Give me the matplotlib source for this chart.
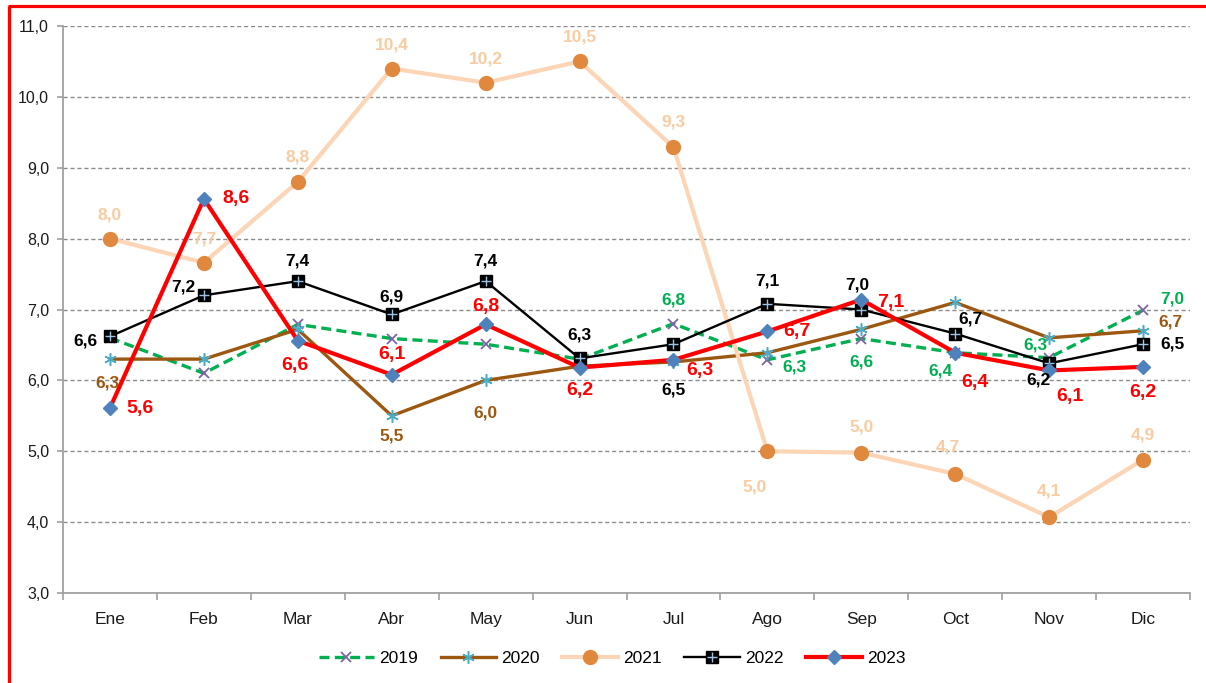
import matplotlib.pyplot as plt
from matplotlib.lines import Line2D
from matplotlib.legend_handler import HandlerTuple
import numpy as np

plt.rcParams['font.family'] = ['Liberation Sans', 'DejaVu Sans']

months = ['Ene', 'Feb', 'Mar', 'Abr', 'May', 'Jun', 'Jul', 'Ago', 'Sep', 'Oct', 'Nov', 'Dic']

v2019 = [6.6, 6.1, 6.79, 6.59, 6.51, 6.3, 6.8, 6.29, 6.59, 6.39, 6.32, 6.99]
v2020 = [6.3, 6.3, 6.72, 5.5, 6.0, 6.2, 6.26, 6.39, 6.72, 7.1, 6.6, 6.7]
v2021 = [8.0, 7.66, 8.8, 10.4, 10.2, 10.5, 9.29, 5.0, 4.98, 4.68, 4.07, 4.88]
v2022 = [6.62, 7.2, 7.4, 6.93, 7.4, 6.31, 6.51, 7.08, 7.0, 6.66, 6.24, 6.51]
v2023 = [5.61, 8.56, 6.56, 6.08, 6.79, 6.18, 6.29, 6.69, 7.14, 6.39, 6.14, 6.19]

# label offsets in pixels (dx, dy); None = no label
off2019 = [None, None, None, None, None, None,
           (0, 24), (27, -7), (0, -23), (-15, -18), (-14, 13), (29, 11)]
off2020 = [(-3, -24), None, None, (0, -20), (0, -33), None,
           None, None, None, None, None, (27, 9)]
off2021 = [(0, 24), (0, 24), (0, 25), (0, 24), (0, 24), (0, 24),
           (0, 25), (-13, -36), (0, 26), (-7, 27), (0, 26), (0, 25)]
off2022 = [(-25, -5), (-21, 8), (0, 20), (0, 17), (0, 20), (0, 23),
           (0, -46), (0, 23), (-4, 24), (15, 15), (-11, -17), (29, 0)]
off2023 = [(30, 0), (32, 0), (-3, -25), (0, 20), (0, 18), (0, -23),
           (26, -11), (29, 0), (29, -3), (20, -30), (21, -26), (0, -26)]

C_GREEN = '#00B050'
C_BROWN = '#9C5710'
C_PEACH = '#FBD5B5'
C_PEACH_LBL = '#F9CBA0'
C_RED = '#FF0000'

fig = plt.figure(figsize=(12.06, 6.83), dpi=100)
ax = fig.add_axes([63 / 1206, 1 - 593 / 683, (1190 - 63) / 1206, (593 - 26) / 683])

x = np.arange(len(months))

l19, = ax.plot(x, v2019, color=C_GREEN, lw=2.4, ls=(0, (3, 1.6)), marker='x',
               ms=7, mec='#7F63A8', mew=1.3, zorder=3)
l20, = ax.plot(x, v2020, color=C_BROWN, lw=2.4, marker=(6, 2, 0), ms=9,
               mec='#4BACC6', mew=1.1, zorder=3)
l21, = ax.plot(x, v2021, color=C_PEACH, lw=3.0, marker='o', ms=10,
               mfc='#E0893E', mec='#E0893E', zorder=3)
l22, = ax.plot(x, v2022, color='black', lw=1.7, marker='s', ms=8.5,
               mfc='black', mec='black', zorder=4)
l22p, = ax.plot(x, v2022, ls='none', marker='+', ms=7, mec='#9DC3E6', mew=1.0, zorder=4)
l23, = ax.plot(x, v2023, color=C_RED, lw=3.0, marker='D', ms=7,
               mfc='#4F81BD', mec='#4F81BD', zorder=5)


def add_labels(vals, offs, color, size):
    for i, (v, o) in enumerate(zip(vals, offs)):
        if o is None:
            continue
        txt = f'{v:.1f}'.replace('.', ',')
        ax.annotate(txt, (i, v), xytext=o, textcoords='offset pixels',
                    ha='center', va='center', color=color, fontsize=size,
                    fontweight='bold', zorder=6)


add_labels(v2019, off2019, C_GREEN, 12.5)
add_labels(v2020, off2020, C_BROWN, 12.5)
add_labels(v2021, off2021, C_PEACH_LBL, 12.5)
add_labels(v2022, off2022, 'black', 12.5)
add_labels(v2023, off2023, C_RED, 14)

ax.set_xlim(-0.5, 11.5)
ax.set_ylim(3, 11)
ax.set_yticks(np.arange(3, 11.01, 1))
ax.set_yticklabels([f'{t:.1f}'.replace('.', ',') for t in np.arange(3, 11.01, 1)])
ax.set_xticks(x)
ax.set_xticklabels(months)
ax.set_xticks(np.arange(-0.5, 12, 1), minor=True)
ax.tick_params(axis='x', which='major', length=0, pad=14, labelsize=12.5, colors='#1a1a1a')
ax.tick_params(axis='x', which='minor', length=5, width=1.2, color='#A0A0A0', direction='out')
ax.tick_params(axis='y', length=4, width=1.2, color='#A0A0A0', labelsize=11.5,
               labelcolor='#1a1a1a', pad=6)

ax.yaxis.grid(True, color='#8C8C8C', ls=(0, (3, 2)), lw=1.0)
ax.set_axisbelow(True)
for s in ['top', 'right']:
    ax.spines[s].set_visible(False)
for s in ['left', 'bottom']:
    ax.spines[s].set_color('#A0A0A0')
    ax.spines[s].set_linewidth(1.3)

handles = [l19, l20, l21, (l22, l22p), l23]
ax.legend(handles, ['2019', '2020', '2021', '2022', '2023'],
          handler_map={tuple: HandlerTuple(ndivide=1, pad=0)},
          loc='center', bbox_to_anchor=(612 / 1206, 1 - 658 / 683),
          bbox_transform=fig.transFigure, ncol=5, frameon=False,
          fontsize=12.5, handlelength=3.2, columnspacing=1.3, handletextpad=0.3)

# red frame (left and top edges visible)
fig.add_artist(Line2D([9 / 1206, 9 / 1206], [0, 1 - 6 / 683], color=C_RED, lw=2.3,
                      transform=fig.transFigure, solid_capstyle='butt'))
fig.add_artist(Line2D([8 / 1206, 1], [1 - 6 / 683, 1 - 6 / 683], color=C_RED, lw=2.3,
                      transform=fig.transFigure, solid_capstyle='butt'))

fig.savefig('out.png', dpi=100, facecolor='white')
